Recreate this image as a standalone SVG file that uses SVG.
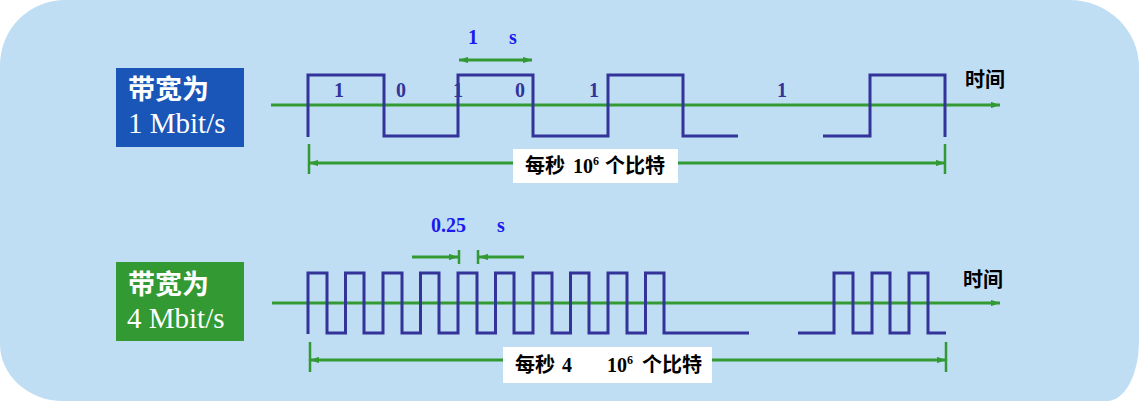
<svg xmlns="http://www.w3.org/2000/svg" width="1139" height="401" viewBox="0 0 1139 401">
  <style>
    .wave { fill: none; stroke: #333399; stroke-width: 3; stroke-linejoin: miter; }
    .gl { fill: none; stroke: #339933; stroke-width: 3; }
    .tick { fill: none; stroke: #339933; stroke-width: 2.5; }
    .lbl { font-family: "Liberation Serif", serif; font-size: 20px; font-weight: bold; fill: #333399; }
    .blu { font-family: "Liberation Serif", serif; font-size: 20px; font-weight: bold; fill: #1a1aee; }
    .cjk { font-family: "Noto Sans CJK SC", sans-serif; font-weight: bold; }
    .ser { font-family: "Liberation Serif", serif; font-weight: bold; }
    .boxt { font-size: 20px; fill: #000; }
    .nodet { fill: #ffffff; }
  </style>
  <defs>
    <marker id="ah" viewBox="0 0 10 7" refX="10" refY="3.5" markerWidth="9" markerHeight="6.5" markerUnits="userSpaceOnUse" orient="auto-start-reverse">
      <path d="M0,0 L10,3.5 L0,7 z" fill="#339933"/>
    </marker>
  </defs>

  <path id="bg" d="M65,0 H1069 A70,67 0 0 1 1139,67 V342 A32,59 0 0 1 1107,401 H63 A63,57 0 0 1 0,344 V65 A65,65 0 0 1 65,0 Z" fill="#bfdef3"/>

  <g id="node-bw1">
    <rect x="116" y="68" width="128" height="79" fill="#1a56b8"/>
    <text class="cjk nodet" x="128" y="99" font-size="27">带宽为</text>
    <text x="128" y="133" font-family="Liberation Serif, serif" font-size="29" fill="#ffffff">1 Mbit/s</text>
  </g>

  <g id="node-bw4">
    <rect x="116" y="262" width="128" height="79" fill="#339933"/>
    <text class="cjk nodet" x="128" y="294" font-size="27">带宽为</text>
    <text x="127" y="328" font-family="Liberation Serif, serif" font-size="29" fill="#ffffff">4 Mbit/s</text>
  </g>

  <g id="connectors">
    <path class="gl" d="M271,105 H1000" marker-end="url(#ah)"/>
    <path class="gl" d="M272,303 H1000" marker-end="url(#ah)"/>
    <path class="gl" d="M459,60 H532" marker-start="url(#ah)" marker-end="url(#ah)"/>
    <path class="tick" d="M309,144 V174 M945,144 V174"/>
    <path class="gl" d="M309,163 H945" marker-start="url(#ah)" marker-end="url(#ah)"/>
    <path class="tick" d="M459,250 V264 M478,250 V264"/>
    <path class="gl" d="M412,257 H458" marker-end="url(#ah)"/>
    <path class="gl" d="M524,257 H479" marker-end="url(#ah)"/>
    <path class="tick" d="M310,342 V372 M946,342 V372"/>
    <path class="gl" d="M310,360 H946" marker-start="url(#ah)" marker-end="url(#ah)"/>
  </g>

  <g id="wave-top">
    <path class="wave" d="M308,137 V75 H384 V136 H458 V75 H533 V136 H608 V75 H683 V136 H738"/>
    <path class="wave" d="M823,136 H870 V75 H945 V137"/>
    <text class="lbl" x="339" y="97" text-anchor="middle">1</text>
    <text class="lbl" x="401" y="97" text-anchor="middle">0</text>
    <text class="lbl" x="458" y="97" text-anchor="middle">1</text>
    <text class="lbl" x="520" y="97" text-anchor="middle">0</text>
    <text class="lbl" x="594" y="97" text-anchor="middle">1</text>
    <text class="lbl" x="782" y="97" text-anchor="middle">1</text>
  </g>

  <g id="wave-bottom">
    <path class="wave" d="M308,334 V273 H327 V333 H345.5 V273 H364 V333 H383 V273 H402 V333 H420.5 V273 H439 V333 H458 V273 H477 V333 H495.5 V273 H514 V333 H533 V273 H552 V333 H570.5 V273 H589 V333 H608 V273 H627 V333 H645.5 V273 H664 V333 H749"/>
    <path class="wave" d="M798,333 H834 V273 H853 V333 H872 V273 H890 V333 H909 V273 H928 V333 H946"/>
  </g>

  <g id="label-1s">
    <text class="blu" x="473" y="44" text-anchor="middle">1</text>
    <text class="blu" x="513" y="44" text-anchor="middle">s</text>
  </g>

  <g id="label-025s">
    <text class="blu" x="431" y="232">0.25</text>
    <text class="blu" x="501" y="232" text-anchor="middle">s</text>
  </g>

  <g id="time-top">
    <text class="cjk" x="965" y="87" font-size="20" fill="#000">时间</text>
  </g>
  <g id="time-bottom">
    <text class="cjk" x="963" y="287" font-size="20" fill="#000">时间</text>
  </g>

  <g id="box-top">
    <rect x="513" y="149" width="165" height="34" fill="#ffffff"/>
    <text class="cjk boxt" x="525" y="173">每秒</text>
    <text class="ser boxt" x="573" y="173">10<tspan font-size="12" dy="-8">6</tspan></text>
    <text class="cjk boxt" x="605" y="173">个比特</text>
  </g>

  <g id="box-bottom">
    <rect x="503" y="347" width="209" height="36" fill="#ffffff"/>
    <text class="cjk boxt" x="515" y="372">每秒</text>
    <text class="ser boxt" x="562" y="372">4</text>
    <text class="ser boxt" x="607" y="372">10<tspan font-size="12" dy="-8">6</tspan></text>
    <text class="cjk boxt" x="642" y="372">个比特</text>
  </g>
</svg>
